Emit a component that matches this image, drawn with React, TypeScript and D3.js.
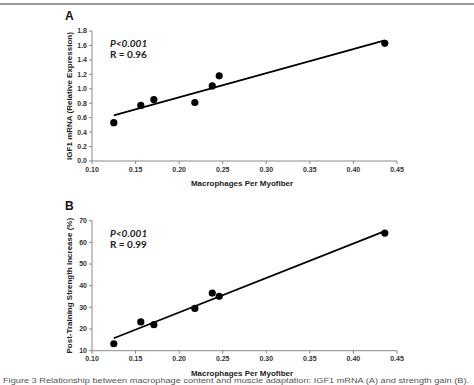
import * as d3 from "d3";

// macrophages per myofiber for each subject
const macrophages = [0.125, 0.156, 0.171, 0.218, 0.238, 0.246, 0.436];
// panel A: IGF1 mRNA (relative expression)
const igf1 = [0.53, 0.77, 0.85, 0.81, 1.04, 1.18, 1.63];
// panel B: post-training strength increase (%)
const strength = [13.2, 23.3, 22.0, 29.5, 36.6, 35.1, 64.3];

const xTicks = [0.1, 0.15, 0.2, 0.25, 0.3, 0.35, 0.4, 0.45];
const igfTicks = [0, 0.2, 0.4, 0.6, 0.8, 1.0, 1.2, 1.4, 1.6, 1.8];
const strengthTicks = [10, 20, 30, 40, 50, 60, 70];

const W = 474;
const H = 385;
const axisFont = "'Liberation Sans', Arial, sans-serif";
const statFont = "Lato, 'Open Sans', sans-serif";

function fit(xs: number[], ys: number[]) {
  const mx = d3.mean(xs)!;
  const my = d3.mean(ys)!;
  const sxy = d3.sum(xs, (x, i) => (x - mx) * (ys[i] - my));
  const sxx = d3.sum(xs, (x) => (x - mx) ** 2);
  const slope = sxy / sxx;
  return { slope, intercept: my - slope * mx };
}

type PanelProps = {
  letter: string;
  top: number;
  ys: number[];
  domain: [number, number];
  ticks: number[];
  fmt: (v: number) => string;
  yTitle: string;
  r: string;
};

function Panel({ letter, top, ys, domain, ticks, fmt, yTitle, r }: PanelProps) {
  const x = d3.scaleLinear().domain([0.1, 0.45]).range([92, 397]);
  const y = d3.scaleLinear().domain(domain).range([top + 130, top]);
  const { slope, intercept } = fit(macrophages, ys);
  const x0 = d3.min(macrophages)!;
  const x1 = d3.max(macrophages)!;
  const line = d3
    .line<number>()
    .x((d) => x(d))
    .y((d) => y(intercept + slope * d));
  const axisColor = "#8a8a8a";
  const base = top + 130;
  return (
    <g>
      <text x={65} y={top - 11} fontFamily={axisFont} fontWeight="bold" fontSize={12} fill="#111">
        {letter}
      </text>
      <line x1={92} x2={92} y1={top} y2={base} stroke={axisColor} />
      <line x1={92} x2={397} y1={base} y2={base} stroke={axisColor} />
      {ticks.map((t) => (
        <g key={t}>
          <line x1={89} x2={92} y1={y(t)} y2={y(t)} stroke={axisColor} />
          <text
            x={87}
            y={y(t)}
            dy="0.35em"
            textAnchor="end"
            fontFamily={axisFont}
            fontWeight="bold"
            fontSize={7}
            fill="#333"
          >
            {fmt(t)}
          </text>
        </g>
      ))}
      {xTicks.map((t) => (
        <g key={t}>
          <line x1={x(t)} x2={x(t)} y1={base} y2={base + 3} stroke={axisColor} />
          <text
            x={x(t)}
            y={base + 10.5}
            textAnchor="middle"
            fontFamily={axisFont}
            fontWeight="bold"
            fontSize={7}
            fill="#333"
          >
            {t.toFixed(2)}
          </text>
        </g>
      ))}
      <text
        x={242}
        y={base + 25}
        textAnchor="middle"
        fontFamily={axisFont}
        fontWeight="bold"
        fontSize={8}
        fill="#222"
      >
        Macrophages Per Myofiber
      </text>
      <text
        transform={`translate(72,${top + 65}) rotate(-90)`}
        textAnchor="middle"
        fontFamily={axisFont}
        fontWeight="bold"
        fontSize={8}
        fill="#222"
      >
        {yTitle}
      </text>
      <text x={110} y={top + 16} fontFamily={statFont} fontStyle="italic" fontWeight="bold" fontSize={10} fill="#222">
        P&lt;0.001
      </text>
      <text x={110} y={top + 27} fontFamily={statFont} fontWeight="bold" fontSize={10} fill="#222">
        R = {r}
      </text>
      <path d={line([x0, x1])!} stroke="#000" strokeWidth={1.7} fill="none" />
      {macrophages.map((m, i) => (
        <circle key={i} cx={x(m)} cy={y(ys[i])} r={3.6} fill="#000" />
      ))}
    </g>
  );
}

export default function App() {
  return (
    <svg width={W} height={H} style={{ position: "absolute", left: 0, top: 0, background: "#fff" }}>
      <rect width={W} height={H} fill="#fff" />
      <line x1={0} x2={W} y1={4} y2={4} stroke="#9a9a9a" strokeWidth={2} />
      <Panel
        letter="A"
        top={31}
        ys={igf1}
        domain={[0, 1.8]}
        ticks={igfTicks}
        fmt={(v) => v.toFixed(1)}
        yTitle="IGF1 mRNA (Relative Expression)"
        r="0.96"
      />
      <Panel
        letter="B"
        top={220.7}
        ys={strength}
        domain={[10, 70]}
        ticks={strengthTicks}
        fmt={(v) => String(v)}
        yTitle="Post-Training Strength Increase (%)"
        r="0.99"
      />
      <text
        x={3}
        y={383}
        textLength={466}
        lengthAdjust="spacingAndGlyphs"
        fontFamily={axisFont}
        fontSize={6.5}
        fill="#555"
      >
        Figure 3 Relationship between macrophage content and muscle adaptation: IGF1 mRNA (A) and strength gain (B).
      </text>
    </svg>
  );
}
